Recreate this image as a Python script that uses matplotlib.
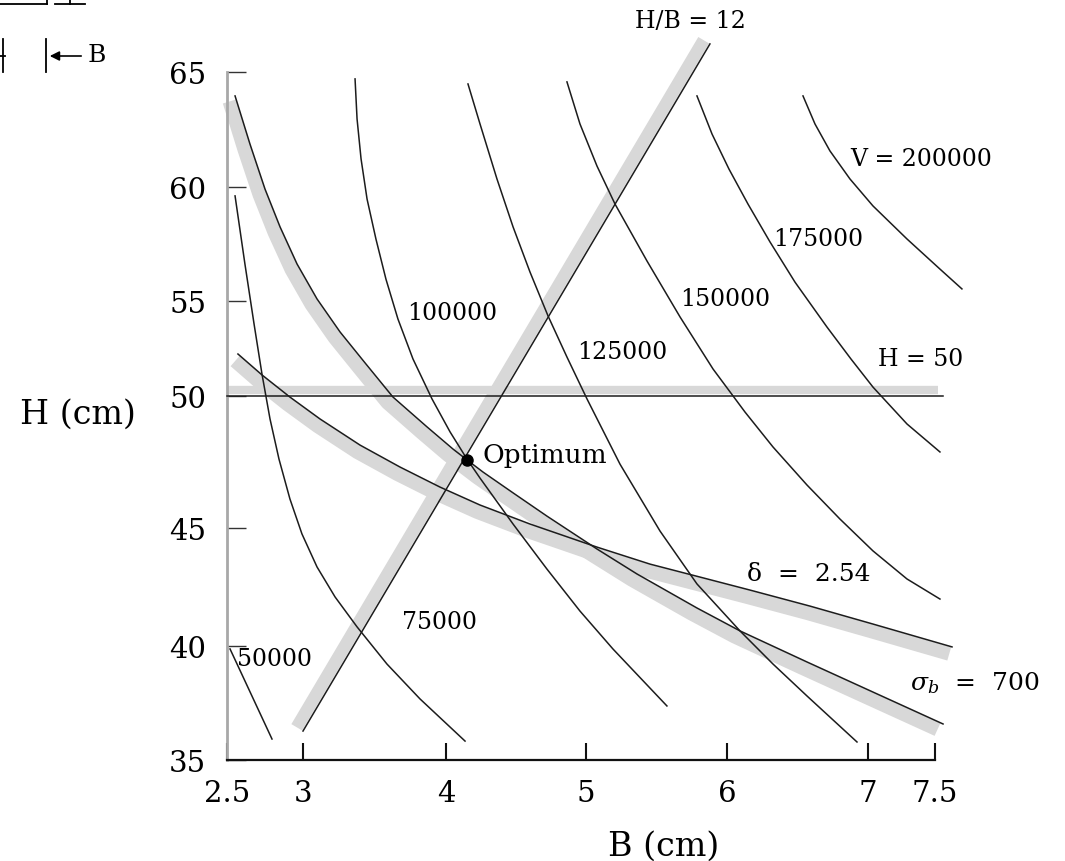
import numpy as np
import matplotlib
matplotlib.use("Agg")
import matplotlib.pyplot as plt
from matplotlib.transforms import ScaledTranslation
from matplotlib.lines import Line2D

plt.rcParams['font.family'] = ['DejaVu Serif']
plt.rcParams['mathtext.fontset'] = 'dejavuserif'

# ---------------- data (B in cm, H in cm) ----------------
sigma_B = [2.553, 2.651, 2.750, 2.849, 2.961, 3.098, 3.259, 3.434, 3.629, 3.867, 4.050,
           4.150, 4.264, 4.479, 4.721, 5.078, 5.362, 5.787, 6.092, 6.567, 7.037, 7.560]
sigma_H = [63.96, 61.87, 59.91, 58.25, 56.62, 55.09, 53.37, 51.74, 49.96, 48.83, 47.99,
           47.58, 47.12, 46.33, 45.45, 44.11, 43.05, 41.61, 40.64, 39.30, 37.98, 36.58]

delta_B = [2.572, 2.730, 2.914, 3.119, 3.399, 3.678, 3.958, 4.243, 4.600, 5.078, 5.454,
           5.809, 6.163, 6.589, 7.037, 7.627]
delta_H = [52.21, 51.11, 49.96, 49.13, 48.14, 47.31, 46.55, 45.87, 45.15, 44.19, 43.47,
           42.92, 42.37, 41.69, 40.93, 39.96]

hb_B = [3.0, 5.879]
hb_H = [36.27, 66.22]

h50_B = [2.5, 7.56]
h50_H = [50.0, 50.0]

v200_B = [6.539, 6.624, 6.730, 6.872, 7.037, 7.291, 7.537, 7.701]
v200_H = [63.96, 62.74, 61.57, 60.35, 59.17, 57.72, 56.40, 55.53]

v175_B = [5.787, 5.894, 6.014, 6.149, 6.305, 6.482, 6.709, 6.879, 7.037, 7.291, 7.537]
v175_H = [63.96, 62.30, 60.78, 59.25, 57.59, 55.83, 53.63, 51.95, 50.47, 48.94, 47.88]

v150_B = [4.864, 4.957, 5.078, 5.206, 5.433, 5.667, 5.901, 6.128, 6.326, 6.567, 6.801,
          7.037, 7.291, 7.537]
v150_H = [64.57, 62.74, 60.91, 59.25, 56.75, 54.16, 51.42, 49.39, 48.07, 46.63, 45.34,
          44.03, 42.84, 41.99]

v125_B = [4.157, 4.243, 4.364, 4.479, 4.600, 4.729, 4.864, 5.007, 5.241, 5.525, 5.787,
          6.092, 6.326, 6.567, 6.922]
v125_H = [64.48, 62.74, 60.35, 58.25, 56.27, 54.21, 52.05, 49.89, 47.42, 44.87, 42.63,
          40.64, 39.21, 37.81, 35.79]

v100_B = [3.364, 3.378, 3.406, 3.448, 3.510, 3.580, 3.664, 3.769, 3.902, 4.029, 4.150,
          4.243, 4.479, 4.721, 4.957, 5.191, 5.574]
v100_H = [64.70, 62.96, 61.22, 59.47, 57.72, 55.96, 54.05, 51.95, 49.89, 48.64, 47.61,
          46.89, 45.15, 43.26, 41.48, 39.87, 37.37]

v75_B = [2.553, 2.618, 2.678, 2.730, 2.783, 2.842, 2.914, 2.993, 3.098, 3.224, 3.378,
         3.587, 3.818, 4.136]
v75_H = [59.61, 56.62, 53.79, 51.16, 49.13, 47.61, 46.10, 44.75, 43.35, 42.08, 40.81,
         39.21, 37.68, 35.83]

v50_B = [2.520, 2.796]
v50_H = [39.87, 35.92]

opt_B, opt_H = 4.15, 47.58

x_ticks = [2.5, 3, 4, 5, 6, 7, 7.5]
x_ticklabels = ['2.5', '3', '4', '5', '6', '7', '7.5']
y_ticks = [35, 40, 45, 50, 55, 60, 65]
y_ticklabels = ['35', '40', '45', '50', '55', '60', '65']

# ---------------- axis scale (drawn figure is not uniformly spaced) ----------------
XN = [2.0, 2.5, 3, 4, 5, 6, 7, 7.5, 8.0]
XP = [151, 227, 303, 446, 586, 727, 868, 935, 1002]
YN = [30, 35, 40, 45, 50, 55, 60, 65, 70]
YP = [-875, -761, -647, -529, -397, -302, -188, -73, 42]

def fx(v): return np.interp(v, XN, XP)
def ix(p): return np.interp(p, XP, XN)
def fy(v): return np.interp(v, YN, YP)
def iy(p): return np.interp(p, YP, YN)

fig = plt.figure(figsize=(10.65, 8.62), dpi=100)
ax = fig.add_axes([227/1065, 101/862, 708/1065, 688/862])
ax.set_xscale('function', functions=(fx, ix))
ax.set_yscale('function', functions=(fy, iy))
ax.set_xlim(2.5, 7.5)
ax.set_ylim(35, 65)

BAND = '#d8d8d8'
LINE = '#1c1c1c'

def band(x, y, dx, dy, lw):
    tr = ax.transData + ScaledTranslation(dx / 72, dy / 72, fig.dpi_scale_trans)
    ax.plot(x, y, transform=tr, color=BAND, lw=lw, solid_capstyle='butt',
            solid_joinstyle='round', clip_on=False, zorder=1)

def curve(x, y):
    ax.plot(x, y, color=LINE, lw=1.1, clip_on=False, zorder=3,
            solid_joinstyle='round')

# constraint bands (infeasible side)
band(sigma_B, sigma_H, -4, -4, 10)
band(delta_B, delta_H, -2, -5, 10)
band(hb_B, hb_H, -4.5, 2.7, 9)
band(h50_B[:1] + [7.52], h50_H, 0, 4.3, 6)

for xb, yh in [(sigma_B, sigma_H), (delta_B, delta_H), (hb_B, hb_H), (h50_B, h50_H),
               (v200_B, v200_H), (v175_B, v175_H), (v150_B, v150_H), (v125_B, v125_H),
               (v100_B, v100_H), (v75_B, v75_H), (v50_B, v50_H)]:
    curve(xb, yh)

ax.plot([opt_B], [opt_H], 'o', color='black', ms=8, zorder=5, clip_on=False)

fs = 17
ax.text(6.872, 61.22, 'V = 200000', fontsize=fs, ha='left', va='center')
ax.text(6.326, 57.72, '175000', fontsize=fs, ha='left', va='center')
ax.text(5.667, 55.09, '150000', fontsize=fs, ha='left', va='center')
ax.text(4.936, 52.32, '125000', fontsize=fs, ha='left', va='center')
ax.text(3.727, 54.42, '100000', fontsize=fs, ha='left', va='center')
ax.text(3.692, 41.02, '75000', fontsize=fs, ha='left', va='center')
ax.text(2.566, 39.43, '50000', fontsize=fs, ha='left', va='center')
ax.text(7.075, 51.95, 'H = 50', fontsize=fs, ha='left', va='center')
ax.text(5.348, 67.26, 'H/B = 12', fontsize=fs, ha='left', va='center')
ax.text(4.264, 47.80, 'Optimum', fontsize=19, ha='left', va='center')
ax.text(6.142, 43.09, 'δ  =  2.54', fontsize=18, ha='left', va='center')
ax.text(7.313, 38.42, r'$\sigma_b$  =  700', fontsize=18, ha='left', va='center')

# axes styling
for s in ['top', 'right']:
    ax.spines[s].set_visible(False)
ax.spines['bottom'].set_color('#111111')
ax.spines['bottom'].set_linewidth(1.6)
ax.spines['left'].set_color('#a8a8a8')
ax.spines['left'].set_linewidth(2.0)

ax.set_xticks(x_ticks)
ax.set_xticklabels(x_ticklabels)
ax.set_yticks(y_ticks)
ax.set_yticklabels(y_ticklabels)
ax.minorticks_off()
ax.tick_params(axis='x', direction='in', length=12, width=1.5, color='#111111',
               labelsize=21, pad=14)
ax.tick_params(axis='y', direction='in', length=14, width=1.0, color='#333333',
               labelsize=21, pad=15)

ax.set_xlabel('B (cm)', fontsize=24, va='center')
ax.xaxis.set_label_coords(0.616, -0.124)
ax.set_ylabel('H (cm)', fontsize=24, rotation=0, ha='center', va='center')
ax.yaxis.set_label_coords(-0.2105, 0.504)

# fragment of the beam sketch in the top-left corner
W, Hh = 1065, 862
def fl(x0, y0, x1, y1, lw=1.3):
    fig.add_artist(Line2D([x0 / W, x1 / W], [1 - y0 / Hh, 1 - y1 / Hh],
                          transform=fig.transFigure, color='black', lw=lw))
fl(0, 5, 47, 5)
fl(47, 0, 47, 5)
fl(55, 5, 85, 5)
fl(70, 0, 70, 5)
fl(3, 40, 3, 73)
fl(0, 57, 5, 57)
fl(46, 40, 46, 73)
fig.add_artist(matplotlib.patches.FancyArrowPatch((84 / W, 1 - 57 / Hh), (47 / W, 1 - 57 / Hh),
                                                  transform=fig.transFigure,
                                                  arrowstyle='-|>', mutation_scale=14,
                                                  color='black', lw=1.2))
fig.text(88 / W, 1 - 55 / Hh, 'B', fontsize=18, ha='left', va='center')

fig.savefig('out.png', dpi=100)
